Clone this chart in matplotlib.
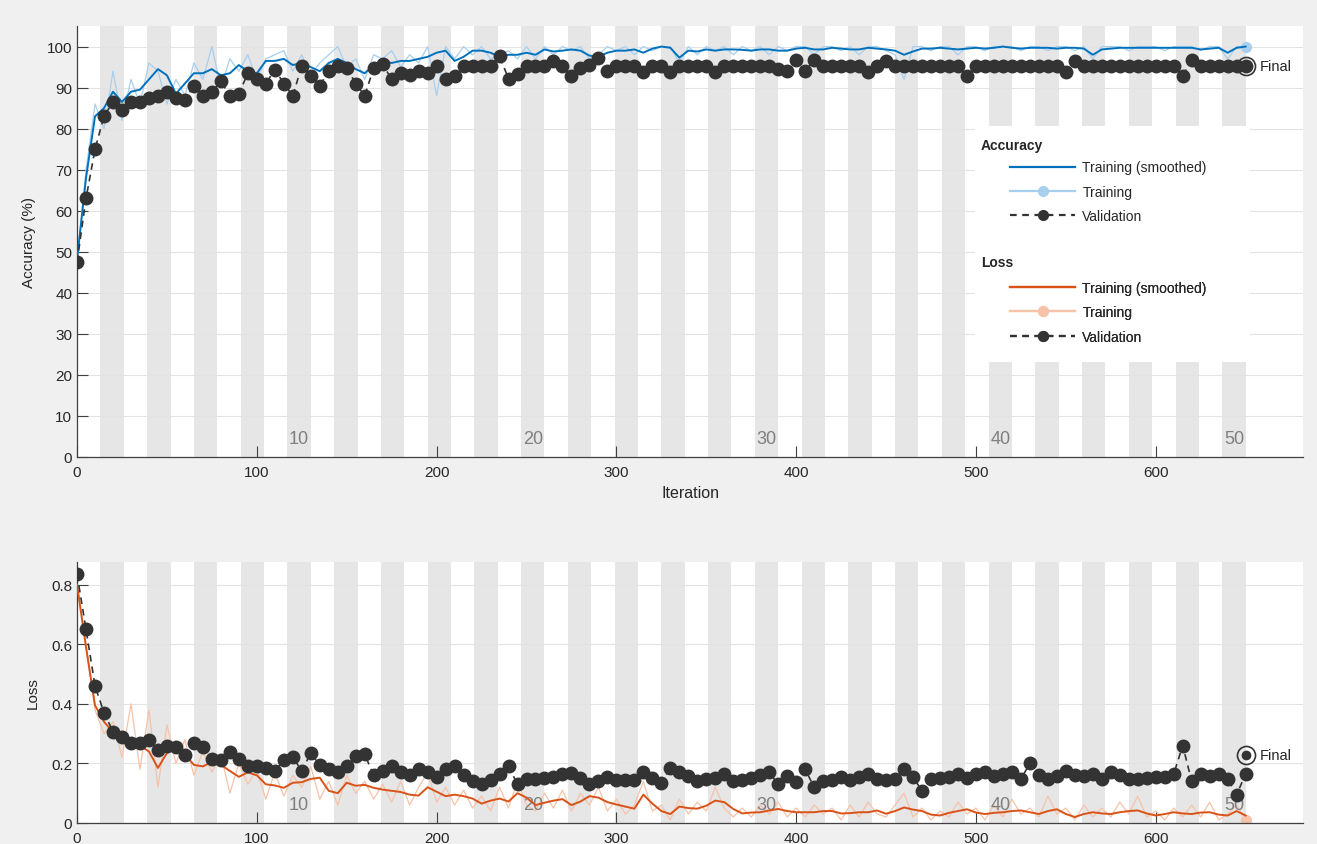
import numpy as np
import matplotlib
matplotlib.use("Agg")
import matplotlib.pyplot as plt
import matplotlib.transforms as mtransforms
from matplotlib.lines import Line2D
from matplotlib.patches import Rectangle

plt.rcParams['font.family'] = ['Liberation Sans', 'DejaVu Sans']

# training run: 50 epochs x 13 iterations, values read every 5 iterations
iters_per_epoch = 13
n_epochs = 50
epoch_labels = [10, 20, 30, 40, 50]
iterations = np.arange(0, 651, 5)

acc_smooth = [
    48, 68, 83, 85, 89, 86.5, 89, 89.5, 92, 94.5,
    93, 88.5, 91, 93.5, 93.5, 94.5, 93, 93.5, 95.5, 94,
    93.5, 96.5, 96.5, 97, 95.5, 96, 95, 94, 96, 97,
    96, 94.5, 93.5, 95.5, 96.5, 96, 96.5, 96.5, 97, 97.5,
    98.5, 99, 96.5, 97.5, 99, 99, 98.5, 97.5, 98, 98,
    98.5, 98, 99.3, 98.8, 99, 99.3, 99, 97.8, 97.5, 98.5,
    99, 99, 99.3, 98.5, 99.5, 100, 99.7, 97.3, 99, 98.8,
    99.3, 99, 99.3, 99.3, 99.2, 99, 99.3, 99.3, 99, 99,
    99.5, 99.7, 99.3, 99.3, 99.7, 99.5, 99.3, 99.3, 99.7, 99.5,
    99.3, 99, 98, 98.8, 99.5, 99.5, 99.7, 99.5, 99.3, 99.5,
    99.7, 99.5, 99.7, 100, 99.7, 99.5, 99.7, 99.7, 99.7, 99.5,
    99.7, 99.7, 99.5, 98, 99.3, 99.5, 99.7, 99.7, 99.7, 99.7,
    99.7, 99.7, 99.7, 99.7, 99.7, 99.3, 99.5, 99.7, 98.5, 99.7,
    100]

acc_raw = [
    48, 70, 86, 80, 94, 82, 92, 86, 96, 94,
    86, 92, 88, 96, 92, 100, 90, 97, 94, 98,
    92, 97, 98, 99, 94, 98, 93, 96, 98, 100,
    95, 97, 92, 98, 97, 99, 95, 98, 96, 100,
    88, 100, 97, 100, 98, 100, 97, 98, 99, 97,
    100, 97, 100, 98, 100, 99, 100, 97, 98, 100,
    99, 100, 98, 100, 99, 100, 100, 96, 100, 98,
    100, 99, 100, 98, 100, 99, 100, 98, 100, 99,
    100, 100, 98, 100, 100, 99, 100, 98, 100, 100,
    99, 98, 92, 100, 100, 99, 100, 100, 98, 100,
    100, 99, 100, 100, 100, 99, 100, 100, 99, 100,
    100, 99, 100, 97, 100, 100, 100, 99, 100, 100,
    100, 99, 100, 100, 100, 99, 100, 100, 97, 100,
    100]

val_acc = [
    47.5, 63, 75, 83, 86.5, 84.5, 86.5, 86.5, 87.5, 88,
    89, 87.5, 87, 90.5, 88, 89, 91.5, 88, 88.5, 93.5,
    92, 91, 94.4, 91, 88, 95.3, 92.8, 90.5, 94, 95.3,
    94.8, 91, 88, 94.8, 95.7, 92, 93.5, 93, 94, 93.6,
    95.3, 92, 92.8, 95.3, 95.3, 95.3, 95.3, 97.6, 92.2, 93.2,
    95.3, 95.3, 95.3, 96.4, 95.3, 92.9, 94.7, 95.5, 97.2, 94,
    95.3, 95.3, 95.3, 93.8, 95.3, 95.3, 93.8, 95.3, 95.3, 95.3,
    95.3, 93.8, 95.3, 95.3, 95.3, 95.3, 95.3, 95.3, 94.6, 94,
    96.8, 94, 96.8, 95.3, 95.3, 95.3, 95.3, 95.3, 93.8, 95.3,
    96.4, 95.3, 95.3, 95.3, 95.3, 95.3, 95.3, 95.3, 95.3, 92.8,
    95.3, 95.3, 95.3, 95.3, 95.3, 95.3, 95.3, 95.3, 95.3, 95.3,
    93.8, 96.4, 95.3, 95.3, 95.3, 95.3, 95.3, 95.3, 95.3, 95.3,
    95.3, 95.3, 95.3, 92.8, 96.8, 95.3, 95.3, 95.3, 95.3, 95.3,
    95.3]

loss_smooth = [
    0.80, 0.59, 0.395, 0.34, 0.305, 0.285, 0.272, 0.26, 0.24, 0.185,
    0.235, 0.255, 0.23, 0.195, 0.19, 0.205, 0.195, 0.175, 0.155, 0.17,
    0.16, 0.13, 0.126, 0.118, 0.135, 0.137, 0.148, 0.152, 0.108, 0.1,
    0.135, 0.125, 0.128, 0.118, 0.112, 0.108, 0.104, 0.095, 0.092, 0.12,
    0.105, 0.09, 0.095, 0.09, 0.082, 0.065, 0.075, 0.082, 0.072, 0.1,
    0.085, 0.06, 0.068, 0.075, 0.08, 0.06, 0.072, 0.09, 0.085, 0.07,
    0.062, 0.055, 0.048, 0.095, 0.065, 0.04, 0.03, 0.055, 0.05, 0.048,
    0.058, 0.075, 0.07, 0.047, 0.032, 0.035, 0.036, 0.042, 0.047, 0.04,
    0.036, 0.036, 0.036, 0.04, 0.04, 0.032, 0.033, 0.036, 0.036, 0.042,
    0.031, 0.04, 0.052, 0.045, 0.04, 0.028, 0.025, 0.034, 0.04, 0.046,
    0.035, 0.03, 0.034, 0.036, 0.04, 0.042, 0.036, 0.03, 0.04, 0.046,
    0.03, 0.02, 0.03, 0.036, 0.032, 0.03, 0.036, 0.04, 0.042, 0.032,
    0.025, 0.03, 0.036, 0.032, 0.03, 0.035, 0.036, 0.028, 0.025, 0.04,
    0.025]

loss_raw = [
    0.80, 0.60, 0.38, 0.30, 0.34, 0.22, 0.40, 0.18, 0.38, 0.12,
    0.33, 0.20, 0.28, 0.16, 0.24, 0.17, 0.23, 0.10, 0.20, 0.13,
    0.18, 0.08, 0.17, 0.09, 0.16, 0.12, 0.19, 0.08, 0.14, 0.06,
    0.16, 0.10, 0.14, 0.08, 0.13, 0.07, 0.14, 0.06, 0.12, 0.17,
    0.07, 0.12, 0.06, 0.11, 0.05, 0.09, 0.04, 0.12, 0.05, 0.14,
    0.06, 0.04, 0.10, 0.05, 0.11, 0.04, 0.10, 0.06, 0.12, 0.04,
    0.08, 0.03, 0.06, 0.14, 0.04, 0.06, 0.01, 0.08, 0.03, 0.07,
    0.04, 0.12, 0.05, 0.02, 0.05, 0.02, 0.06, 0.03, 0.07, 0.02,
    0.05, 0.02, 0.06, 0.03, 0.05, 0.01, 0.06, 0.02, 0.07, 0.03,
    0.02, 0.06, 0.10, 0.02, 0.05, 0.01, 0.04, 0.02, 0.07, 0.03,
    0.05, 0.01, 0.06, 0.02, 0.08, 0.03, 0.05, 0.02, 0.09, 0.03,
    0.05, 0.01, 0.06, 0.02, 0.05, 0.02, 0.07, 0.03, 0.09, 0.02,
    0.04, 0.01, 0.05, 0.02, 0.06, 0.02, 0.07, 0.01, 0.03, 0.06,
    0.01]

val_loss = [
    0.835, 0.65, 0.46, 0.37, 0.307, 0.29, 0.27, 0.268, 0.277, 0.245,
    0.26, 0.255, 0.228, 0.268, 0.255, 0.215, 0.21, 0.24, 0.215, 0.19,
    0.19, 0.185, 0.176, 0.21, 0.221, 0.175, 0.235, 0.193, 0.182, 0.17,
    0.19, 0.225, 0.23, 0.16, 0.175, 0.19, 0.172, 0.16, 0.18, 0.172,
    0.155, 0.18, 0.19, 0.16, 0.14, 0.131, 0.145, 0.165, 0.19, 0.13,
    0.148, 0.148, 0.152, 0.155, 0.165, 0.168, 0.15, 0.132, 0.14, 0.154,
    0.145, 0.143, 0.143, 0.17, 0.15, 0.135, 0.185, 0.17, 0.158, 0.14,
    0.146, 0.15, 0.163, 0.14, 0.143, 0.15, 0.16, 0.17, 0.13, 0.158,
    0.137, 0.18, 0.12, 0.14, 0.145, 0.154, 0.145, 0.155, 0.165, 0.148,
    0.143, 0.148, 0.18, 0.154, 0.108, 0.148, 0.152, 0.155, 0.165, 0.15,
    0.165, 0.17, 0.159, 0.165, 0.17, 0.148, 0.2, 0.16, 0.148, 0.159,
    0.175, 0.16, 0.158, 0.165, 0.148, 0.17, 0.16, 0.148, 0.148, 0.152,
    0.154, 0.154, 0.165, 0.26, 0.14, 0.165, 0.159, 0.165, 0.148, 0.095,
    0.165]

final_acc = 95.3
final_loss = 0.227

blue = '#0072BD'
light_blue = '#a8cfee'
orange = '#D95319'
light_orange = '#f5c3a9'
dark = '#333333'
axis_grey = '#404040'


def style_axes(ax, ymax, yticks, yticklabels):
    ax.set_facecolor('white')
    ax.set_xlim(0, 682)
    ax.set_ylim(0, ymax)
    ax.set_xticks(range(0, 700, 100))
    ax.set_yticks(yticks)
    ax.set_yticklabels(yticklabels)
    ax.tick_params(direction='in', length=8, width=0.8, colors=axis_grey,
                   labelsize=11, labelcolor='#262626')
    ax.tick_params(axis='x', pad=6)
    for side in ['top', 'right']:
        ax.spines[side].set_visible(False)
    for side in ['left', 'bottom']:
        ax.spines[side].set_color(axis_grey)
        ax.spines[side].set_linewidth(0.9)
    ax.set_axisbelow(True)
    ax.grid(axis='y', color='#e3e3e3', linewidth=0.8)
    # shade every other epoch
    for e in range(2, n_epochs + 1, 2):
        ax.axvspan((e - 1) * iters_per_epoch, e * iters_per_epoch,
                   color='#e6e6e6', linewidth=0, zorder=0.2)
    h_px = ax.get_position().height * fig.get_figheight() * fig.dpi
    trans = mtransforms.blended_transform_factory(ax.transData, ax.transAxes)
    for e in epoch_labels:
        ax.text((e - 0.5) * iters_per_epoch, 10.0 / h_px, str(e), transform=trans,
                ha='center', va='bottom', fontsize=13, color='#7f7f7f')


def plot_series(ax, raw, smooth, val, final, c_smooth, c_raw):
    ax.plot(iterations, raw, color=c_raw, linewidth=0.9, zorder=2)
    ax.plot(iterations[-1:], raw[-1:], 'o', color=c_raw, markersize=7, zorder=2)
    ax.plot(iterations, smooth, color=c_smooth, linewidth=1.4, zorder=3)
    ax.plot(iterations, val, '--o', color=dark, markersize=9, linewidth=1.2,
            dashes=(4, 3), zorder=4)
    ax.plot([iterations[-1]], [final], 'o', color=dark, markersize=6, zorder=5)
    ax.plot([iterations[-1]], [final], 'o', markersize=13, markerfacecolor='none',
            markeredgecolor=dark, markeredgewidth=1.2, zorder=5)
    ax.text(iterations[-1] + 8, final, 'Final', fontsize=10.5, color='#262626',
            va='center', ha='left', zorder=6)


def legend_block(ax, title, c_smooth, c_raw, title_y, top_y):
    handles = [Line2D([], [], color=c_smooth, linewidth=1.6),
               Line2D([], [], color=c_raw, linewidth=1.6, marker='o', markersize=7),
               Line2D([], [], color=dark, linewidth=1.6, linestyle='--', dashes=(3, 2.5),
                      marker='o', markersize=7)]
    labels = ['Training (smoothed)', 'Training', 'Validation']
    ax.text(0.737, title_y, title, transform=ax.transAxes, fontsize=10,
            fontweight='bold', va='center', ha='left', color='#262626', zorder=7)
    leg = ax.legend(handles, labels, loc='upper left', bbox_to_anchor=(0.761, top_y),
                    frameon=False, fontsize=10, handlelength=4.7, handletextpad=0.5,
                    borderpad=0, borderaxespad=0, labelspacing=0.75, numpoints=1)
    for t in leg.get_texts():
        t.set_color('#262626')
    ax.add_artist(leg)


fig = plt.figure(figsize=(13.17, 8.45), dpi=100, facecolor='#f0f0f0')
ax1 = fig.add_axes([0.0585, 0.458, 0.931, 0.510])
ax2 = fig.add_axes([0.0585, 0.0249, 0.931, 0.309])

style_axes(ax1, 105, range(0, 101, 10), [str(v) for v in range(0, 101, 10)])
style_axes(ax2, 0.877, [0, 0.2, 0.4, 0.6, 0.8], ['0', '0.2', '0.4', '0.6', '0.8'])

plot_series(ax1, acc_raw, acc_smooth, val_acc, final_acc, blue, light_blue)
plot_series(ax2, loss_raw, loss_smooth, val_loss, final_loss, orange, light_orange)

ax1.set_ylabel('Accuracy (%)', fontsize=11, color='#262626', labelpad=8)
ax1.set_xlabel('Iteration', fontsize=11.5, color='#262626', labelpad=4)
ax2.set_ylabel('Loss', fontsize=11, color='#262626', labelpad=8)

# white panel behind the legend
ax1.add_patch(Rectangle((0.7325, 0.2204), 0.2245, 0.5476, transform=ax1.transAxes,
                        facecolor='white', edgecolor='none', zorder=0.8))
legend_block(ax1, 'Accuracy', blue, light_blue, 0.724, 0.688)
legend_block(ax1, 'Loss', orange, light_orange, 0.452, 0.409)

fig.savefig('out.png', dpi=100, facecolor=fig.get_facecolor())
